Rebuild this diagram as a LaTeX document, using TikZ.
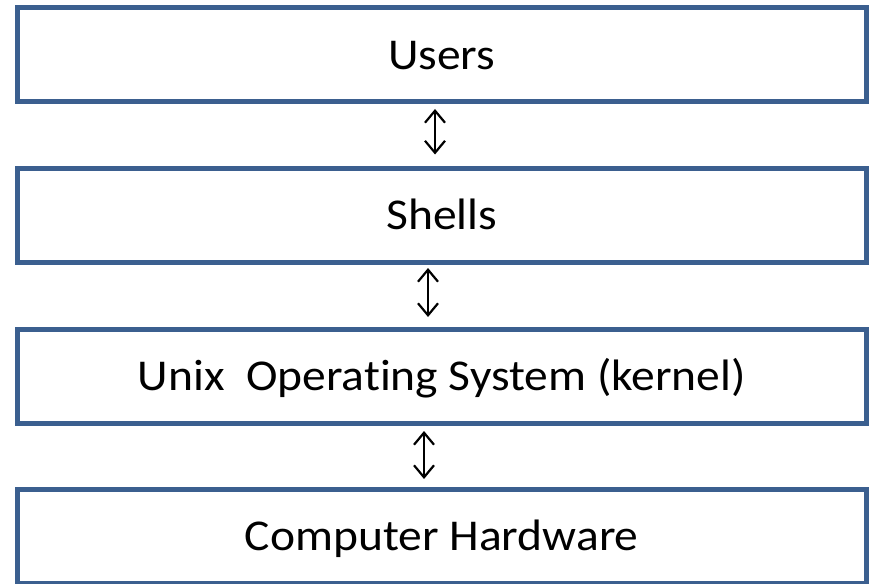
\documentclass[tikz,border=0pt]{standalone}
\usepackage{fontspec}
\setmainfont{Carlito}[FakeStretch=1.08, Ligatures=NoCommon]
\usetikzlibrary{arrows.meta,calc}
\definecolor{boxblue}{HTML}{3B5F8F}
\tikzset{
  layer/.style={draw=boxblue, line width=5pt, minimum width=848.5pt, minimum height=94pt,
    inner sep=0pt, outer sep=0pt, text height=28.3pt, text depth=0pt,
    font=\fontsize{44}{50}\selectfont, text=black},
  dbl/.style={line width=2.2pt, {Straight Barb[length=12pt,width=20pt,line width=2.2pt]}-{Straight Barb[length=12pt,width=20pt,line width=2.2pt]}}
}
\begin{document}
\begin{tikzpicture}[x=1pt,y=-1pt]
\useasboundingbox[fill=white] (0,0) rectangle (869,583);
\node[layer] (users) at (441.75,55) {Users};
\node[layer] (shells) at (441.75,215.5) {Shells};
\node[layer] (kernel) at (441.75,376) {Unix\ \ Operating System (kernel)};
\node[layer] (hw) at (441.75,536.5) {Computer Hardware};
\draw[dbl] ($(users.south)+(-6.75,7)$) -- ($(shells.north)+(-6.75,-14)$);
\draw[dbl] ($(shells.south)+(-13.75,5.5)$) -- ($(kernel.north)+(-13.75,-12)$);
\draw[dbl] ($(kernel.south)+(-17.75,8)$) -- ($(hw.north)+(-17.75,-10.5)$);
\end{tikzpicture}
\end{document}
